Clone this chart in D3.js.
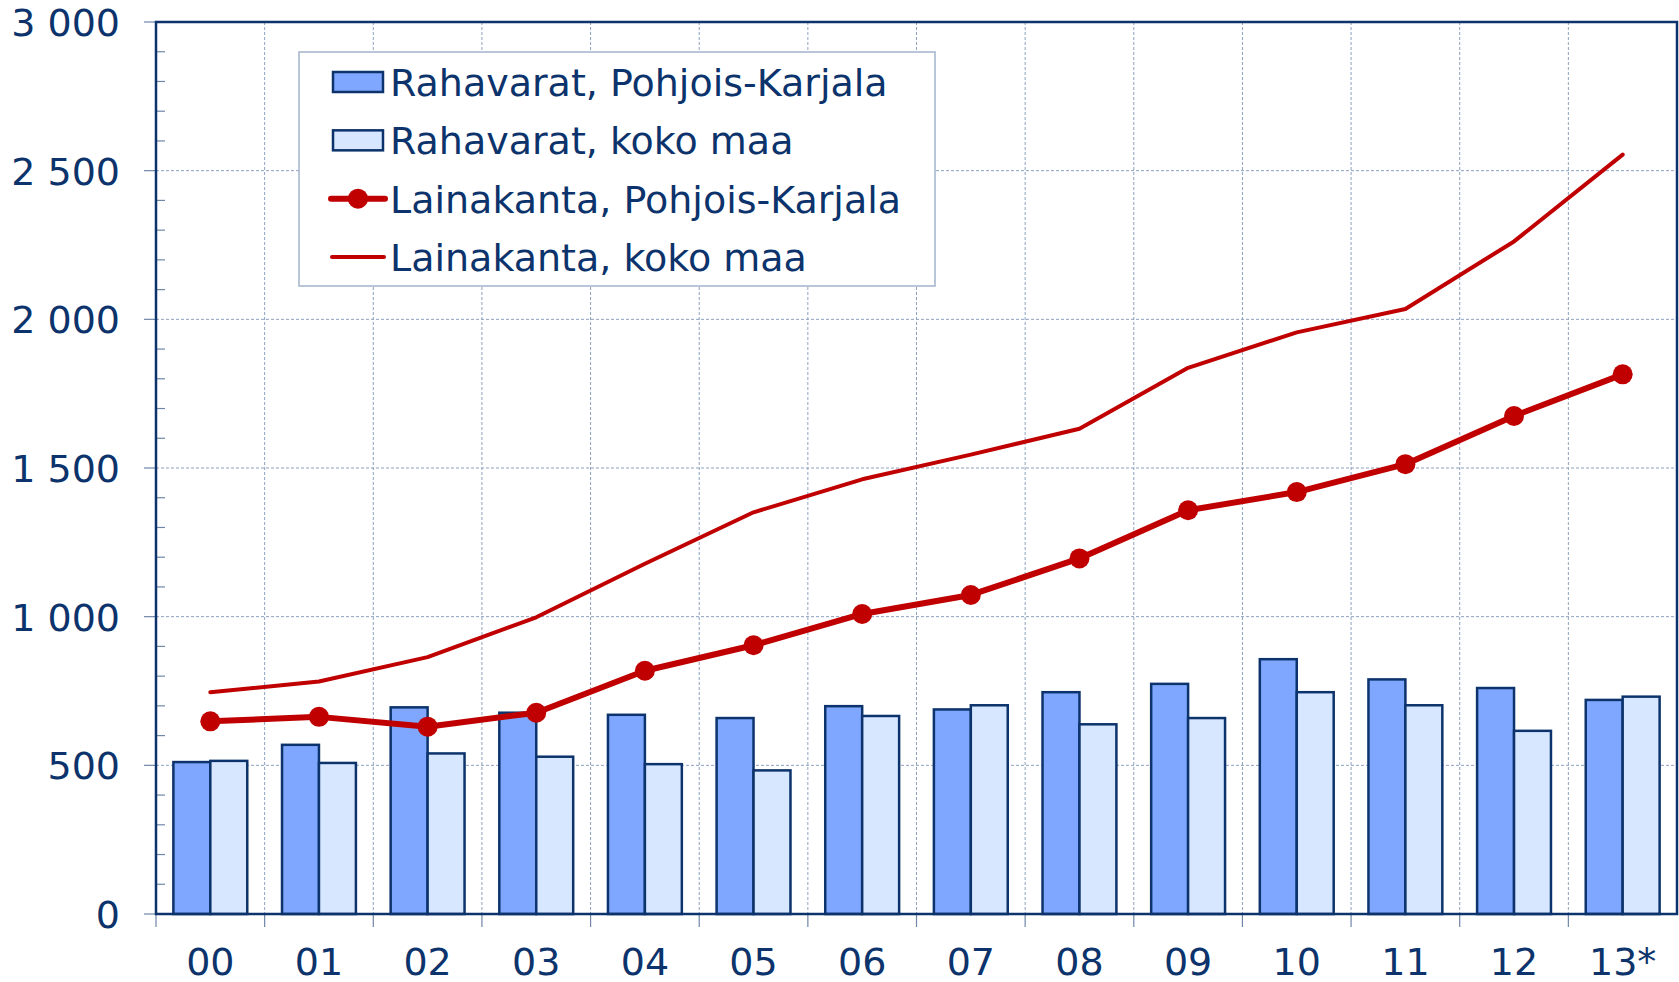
<!DOCTYPE html>
<html>
<head>
<meta charset="UTF-8">
<script src="https://d3js.org/d3.v7.min.js"></script>
<style>
  body { margin: 0; background: #fff; }
  text { font-family: "DejaVu Sans", Verdana, sans-serif; fill: #0c336b; }
</style>
</head>
<body>
<div id="chart"></div>
<script>
// years (x categories)
var years = ["00","01","02","03","04","05","06","07","08","09","10","11","12","13*"];
// Rahavarat (bars)
var rahaPK   = [511, 569, 695, 677, 670, 659, 699, 688, 746, 774, 857, 789, 760, 720];
var rahaKoko = [515, 508, 540, 529, 504, 483, 666, 702, 638, 659, 746, 702, 616, 731];
// Lainakanta (lines)
var lainaPK   = [648, 663, 630, 677, 818, 904, 1009, 1073, 1196, 1358, 1419, 1513, 1675, 1815];
var lainaKoko = [746, 782, 864, 998, 1178, 1351, 1462, 1545, 1632, 1837, 1956, 2035, 2262, 2554];
var yTicks = [0, 500, 1000, 1500, 2000, 2500, 3000];
var legendLabels = ["Rahavarat, Pohjois-Karjala", "Rahavarat, koko maa",
                    "Lainakanta, Pohjois-Karjala", "Lainakanta, koko maa"];

var W = 1679, H = 982;
var plot = {left: 156, right: 1677, top: 22, bottom: 914};
var navy = "#0c336b", red = "#c00000", grid = "#8da2bf";

var svg = d3.select("#chart").append("svg")
    .attr("width", W).attr("height", H);

var x = d3.scaleBand().domain(years).range([plot.left, plot.right]).padding(0);
var xInner = d3.scaleBand().domain([0, 1]).range([0, x.bandwidth() * 0.68]);
var groupOff = x.bandwidth() * 0.16;
var y = d3.scaleLinear().domain([0, 3000]).range([plot.bottom, plot.top]);

// horizontal gridlines
svg.append("g").selectAll("line").data(yTicks.slice(1, -1)).join("line")
    .attr("x1", plot.left).attr("x2", plot.right)
    .attr("y1", d => y(d)).attr("y2", d => y(d))
    .attr("stroke", grid).attr("stroke-width", 1).attr("stroke-dasharray", "3,2");

// vertical gridlines at category boundaries
var bounds = years.map(d => x(d));
svg.append("g").selectAll("line").data(bounds.slice(1)).join("line")
    .attr("x1", d => d).attr("x2", d => d)
    .attr("y1", plot.top).attr("y2", plot.bottom)
    .attr("stroke", grid).attr("stroke-width", 1).attr("stroke-dasharray", "3,2");

// x ticks below axis
svg.append("g").selectAll("line").data(bounds).join("line")
    .attr("x1", d => d).attr("x2", d => d)
    .attr("y1", plot.bottom).attr("y2", plot.bottom + 13)
    .attr("stroke", "#6f86a8").attr("stroke-width", 1.2);

// minor y ticks (inside)
svg.append("g").selectAll("line").data(d3.range(100, 3000, 100).filter(d => d % 500 !== 0)).join("line")
    .attr("x1", plot.left).attr("x2", plot.left + 9)
    .attr("y1", d => y(d)).attr("y2", d => y(d))
    .attr("stroke", "#6f86a8").attr("stroke-width", 1.2);

// major y ticks (outside)
svg.append("g").selectAll("line").data(yTicks).join("line")
    .attr("x1", plot.left - 12).attr("x2", plot.left)
    .attr("y1", d => y(d)).attr("y2", d => y(d))
    .attr("stroke", "#6f86a8").attr("stroke-width", 1.2);

// y labels
svg.append("g").selectAll("text").data(yTicks).join("text")
    .attr("x", 120).attr("y", d => y(d)).attr("dy", "0.37em")
    .attr("text-anchor", "end").attr("font-size", 38)
    .text(d => d3.format(",")(d).replace(",", " "));

// x labels
svg.append("g").selectAll("text").data(years).join("text")
    .attr("x", d => x(d) + x.bandwidth() / 2).attr("y", 975)
    .attr("text-anchor", "middle").attr("font-size", 38)
    .text(d => d);

// bars
var barSets = [{vals: rahaPK, fill: "#7fa7ff"}, {vals: rahaKoko, fill: "#d7e7ff"}];
barSets.forEach(function(s, k) {
  svg.append("g").selectAll("rect").data(years).join("rect")
    .attr("x", d => x(d) + groupOff + xInner(k))
    .attr("width", xInner.bandwidth())
    .attr("y", (d, i) => y(s.vals[i]))
    .attr("height", (d, i) => plot.bottom - y(s.vals[i]))
    .attr("fill", s.fill).attr("stroke", navy).attr("stroke-width", 2.5);
});

// lines
var line = d3.line()
    .x((d, i) => x(years[i]) + x.bandwidth() / 2)
    .y(d => y(d));

svg.append("path").attr("d", line(lainaKoko))
    .attr("fill", "none").attr("stroke", red).attr("stroke-width", 4)
    .attr("stroke-linecap", "round").attr("stroke-linejoin", "round");

svg.append("path").attr("d", line(lainaPK))
    .attr("fill", "none").attr("stroke", red).attr("stroke-width", 6)
    .attr("stroke-linejoin", "round");

svg.append("g").selectAll("circle").data(lainaPK).join("circle")
    .attr("cx", (d, i) => x(years[i]) + x.bandwidth() / 2)
    .attr("cy", d => y(d)).attr("r", 10)
    .attr("fill", red);

// plot frame
svg.append("rect")
    .attr("x", plot.left).attr("y", plot.top)
    .attr("width", plot.right - plot.left).attr("height", plot.bottom - plot.top)
    .attr("fill", "none").attr("stroke", navy).attr("stroke-width", 2.5);

// legend
var lg = svg.append("g");
lg.append("rect")
    .attr("x", 299).attr("y", 52).attr("width", 636).attr("height", 234)
    .attr("fill", "#fff").attr("stroke", "#a3b3cb").attr("stroke-width", 1.5);

var rowY = d3.scalePoint().domain(legendLabels).range([82, 257]);

lg.selectAll("text").data(legendLabels).join("text")
    .attr("x", 390).attr("y", d => rowY(d)).attr("dy", "0.37em")
    .attr("font-size", 38).text(d => d);

[0, 1].forEach(function(k) {
  lg.append("rect")
    .attr("x", 333).attr("y", rowY(legendLabels[k]) - 10)
    .attr("width", 50).attr("height", 20)
    .attr("fill", barSets[k].fill).attr("stroke", navy).attr("stroke-width", 2.5);
});
lg.append("line")
    .attr("x1", 331).attr("x2", 385)
    .attr("y1", rowY(legendLabels[2])).attr("y2", rowY(legendLabels[2]))
    .attr("stroke", red).attr("stroke-width", 6).attr("stroke-linecap", "round");
lg.append("circle")
    .attr("cx", 358).attr("cy", rowY(legendLabels[2])).attr("r", 10).attr("fill", red);
lg.append("line")
    .attr("x1", 332).attr("x2", 384)
    .attr("y1", rowY(legendLabels[3])).attr("y2", rowY(legendLabels[3]))
    .attr("stroke", red).attr("stroke-width", 4).attr("stroke-linecap", "round");
</script>
</body>
</html>
